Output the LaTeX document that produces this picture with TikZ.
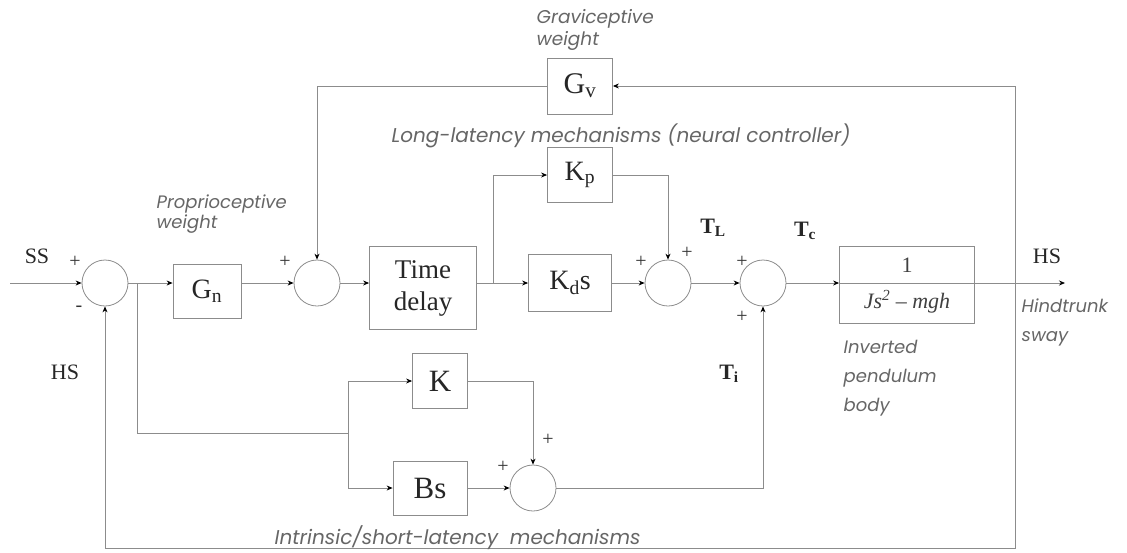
\documentclass[tikz,border=0pt]{standalone}
\usepackage{fontspec}
\setmainfont{Liberation Serif}
\newfontfamily\notefont{Poppins}
\usetikzlibrary{arrows.meta}

\begin{document}
\begin{tikzpicture}[x=1pt,y=-1pt,line width=0.8pt,
        wire/.style={draw=black!45},
        sig/.style={draw=black!45,-{Stealth[length=6pt,width=5pt,black]}},
        block/.style={draw=black!45,rectangle,inner sep=0pt,text=black!85,font=\fontsize{28}{32}\selectfont},
        sumnode/.style={draw=black!45,circle,minimum size=46pt,inner sep=0pt},
        sign/.style={text=black!80,font=\fontsize{20}{20}\selectfont},
        lbl/.style={text=black!85,font=\fontsize{22}{24}\selectfont},
        tlbl/.style={text=black!85,font=\bfseries\fontsize{22}{24}\selectfont},
        note/.style={text=black!60,align=left,anchor=west,font=\notefont\itshape\fontsize{20}{22}\selectfont}]
    \useasboundingbox (0,0) rectangle (1127,552);

    % summing junctions
    \node[sumnode] (s1) at (105,283) {};
    \node[sumnode] (s2) at (317,283) {};
    \node[sumnode] (s3) at (668,283) {};
    \node[sumnode] (s4) at (763,283) {};
    \node[sumnode] (s5) at (533,488) {};

    % blocks
    \node[block,minimum width=68pt,minimum height=54pt] (gn) at (207,291) {G\textsubscript{n}};
    \node[block,minimum width=107pt,minimum height=83pt,align=center,font=\fontsize{27}{32}\selectfont] (delay) at (423,288) {Time\\delay};
    \node[block,minimum width=83pt,minimum height=57pt] (kd) at (570,283) {K\textsubscript{d}s};
    \node[block,minimum width=65pt,minimum height=55pt] (kp) at (580,175) {K\textsubscript{p}};
    \node[block,minimum width=65pt,minimum height=56pt,font=\fontsize{30}{32}\selectfont] (gv) at (580,86) {G\textsubscript{v}};
    \node[block,minimum width=135pt,minimum height=77pt] (plant) at (907,285) {};
    \node[block,minimum width=55pt,minimum height=55pt,font=\fontsize{31}{32}\selectfont] (k) at (440,381) {K};
    \node[block,minimum width=74pt,minimum height=54pt,font=\fontsize{31}{32}\selectfont] (bs) at (430,488) {Bs};

    % plant transfer function
    \draw[wire] (plant.west |- s4) -- (plant.east |- s4);
    \node[text=black!75,font=\fontsize{22}{24}\selectfont] (num) at (907,265) {1};
    \node[text=black!75,font=\itshape\fontsize{22}{24}\selectfont] (den) at (907,302) {Js\textsuperscript{2} -- mgh};

    % branch points and free ends
    \coordinate (in) at (10,283);
    \coordinate (out) at (1065,283);
    \coordinate (b1) at (137,283);
    \coordinate (b2) at (493,283);
    \coordinate (b3) at (1015,283);
    \coordinate (b4) at (348,433);
    \coordinate (fb) at (105,548);

    % forward path
    \draw[sig] (in) -- (s1.west);
    \draw[wire] (s1.east) -- (b1);
    \draw[sig] (b1) -- (gn.west |- s1);
    \draw[sig] (gn.east |- s1) -- (s2.west);
    \draw[sig] (s2.east) -- (delay.west |- s2);
    \draw[wire] (delay.east |- s2) -- (b2);
    \draw[sig] (b2) -- (kd.west);
    \draw[sig] (b2) |- (kp.west);
    \draw[sig] (kd.east) -- (s3.west);
    \draw[sig] (kp.east) -| (s3.north);
    \draw[sig] (s3.east) -- (s4.west);
    \draw[sig] (s4.east) -- (plant.west |- s4);
    \draw[sig] (plant.east |- s4) -- (out);

    % graviceptive loop and sway feedback
    \draw[sig] (b3) |- (gv.east);
    \draw[sig] (gv.west) -| (s2.north);
    \draw[sig] (b3) |- (fb) -- (s1.south);

    % intrinsic path
    \draw[wire] (b1) |- (b4);
    \draw[sig] (b4) |- (k.west);
    \draw[sig] (b4) |- (bs.west);
    \draw[sig] (bs.east) -- (s5.west);
    \draw[sig] (k.east) -| (s5.north);
    \draw[sig] (s5.east) -| (s4.south);

    % signs
    \node[sign] (p1) at (75,262) {+};
    \node[sign] (m1) at (79,309) {-};
    \node[sign] (p2) at (285,262) {+};
    \node[sign] (p3) at (641,262) {+};
    \node[sign] (p4) at (687,253) {+};
    \node[sign] (p5) at (742,262) {+};
    \node[sign] (p6) at (742,317) {+};
    \node[sign] (p7) at (548,440) {+};
    \node[sign] (p8) at (503,467) {+};

    % signal names
    \node[lbl] (ss) at (37,256) {SS};
    \node[lbl] (hsin) at (65,372) {HS};
    \node[lbl] (hsout) at (1047,256) {HS};
    \node[tlbl] (tl) at (713,228) {T\textsubscript{L}};
    \node[tlbl] (tc) at (805,231) {T\textsubscript{c}};
    \node[tlbl] (ti) at (729,374) {T\textsubscript{i}};

    % annotations
    \node[note,font=\notefont\itshape\fontsize{18}{18}\selectfont] (propw) at (153,214) {Proprioceptive\\weight};
    \node[note,font=\notefont\itshape\fontsize{18.5}{22}\selectfont] (gravw) at (533,30) {Graviceptive\\weight};
    \node[note] (long) at (388,136) {Long-latency mechanisms (neural controller)};
    \node[note,font=\notefont\itshape\fontsize{18}{29}\selectfont] (body) at (840,378) {Inverted\\pendulum\\body};
    \node[note,font=\notefont\itshape\fontsize{18}{29}\selectfont] (sway) at (1018,322) {Hindtrunk\\sway};
    \node[note] (short) at (271,538) {Intrinsic/short-latency\ \ mechanisms};
\end{tikzpicture}
\end{document}
